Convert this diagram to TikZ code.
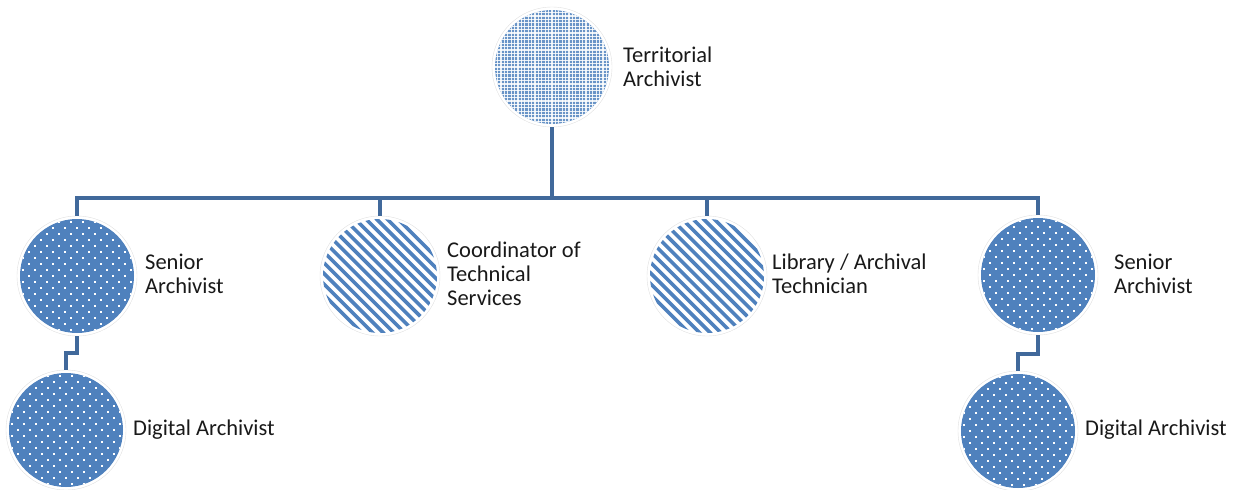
\documentclass[tikz,border=0pt]{standalone}
\usepackage{fontspec}
\setmainfont{Carlito}
\definecolor{cblue}{RGB}{79,129,189}
\definecolor{cline}{RGB}{65,105,155}
\definecolor{ctext}{RGB}{25,25,25}
\tikzset{
  ring/.style={circle, minimum size=120pt, inner sep=0pt, draw=black!12, line width=0.4pt, fill=white},
  dotsnode/.style={ring, path picture={
    \begin{scope}[shift={(path picture bounding box.center)}]
      \clip (0,0) circle (57pt);
      \fill[cblue] (-60,-60) rectangle (60,60);
      \foreach \r in {0,...,20}{
        \pgfmathsetmacro{\yy}{6*\r-60}
        \pgfmathsetmacro{\oo}{6*mod(\r,2)}
        \foreach \c in {-6,...,6}{
          \fill[white] ({12*\c+\oo-0.9},{\yy-0.9}) rectangle ++(1.8,1.8);
        }
      }
    \end{scope}}},
  stripenode/.style={ring, path picture={
    \begin{scope}[shift={(path picture bounding box.center)}]
      \clip (0,0) circle (57pt);
      \foreach \k in {-17,...,17}{
        \draw[cblue, line width=3.6pt] ({10.7*\k-80},-80) -- ({10.7*\k+80},80);
      }
    \end{scope}}},
  gridnode/.style={ring, path picture={
    \begin{scope}[shift={(path picture bounding box.center)}]
      \clip (0,0) circle (57pt);
      \fill[cblue!85] (-60,-60) rectangle (60,60);
      \foreach \k in {-18,...,18}{
        \draw[white, line width=1.1pt, opacity=0.85] ({3.4*\k},-62) -- ({3.4*\k},62);
        \draw[white, line width=1.1pt, opacity=0.85] (-62,{3.4*\k}) -- (62,{3.4*\k});
      }
    \end{scope}}},
  lbl/.style={font=\fontsize{22.5}{24}\selectfont, align=left, inner sep=0pt, text=ctext, anchor=west},
  conn/.style={draw=cline, line width=4pt, line join=miter}
}
\begin{document}
\begin{tikzpicture}[x=1pt,y=-1pt]
\useasboundingbox (0,0) rectangle (1243,490);
\coordinate (bar) at (0,198);
% nodes
\node[gridnode] (T) at (552,67) {};
\node[dotsnode] (S1) at (77,276) {};
\node[stripenode] (C) at (380,276) {};
\node[stripenode] (L) at (707,276) {};
\node[dotsnode] (S2) at (1038,275) {};
\node[dotsnode] (D1) at (66,430) {};
\node[dotsnode] (D2) at (1018,431) {};
% labels
\node[lbl] (tT) at (623,66.5) {Territorial\\Archivist};
\node[lbl] (tS1) at (145,273.5) {Senior\\Archivist};
\node[lbl] (tC) at (447,274) {Coordinator of\\Technical\\Services};
\node[lbl] (tL) at (772,274) {Library / Archival\\Technician};
\node[lbl] (tS2) at (1114,273.5) {Senior\\Archivist};
\node[lbl] (tD1) at (133,430) {Digital Archivist};
\node[lbl] (tD2) at (1085,430) {Digital Archivist};
% connectors
\draw[conn] (T.south) -- (T |- bar);
\draw[conn] (S1.north) -- (S1 |- bar) -- (S2 |- bar) -- (S2.north);
\draw[conn] (C.north) -- (C |- bar);
\draw[conn] (L.north) -- (L |- bar);
\draw[conn] (S1.south) -- ++(0,17) -| (D1.north);
\draw[conn] (S2.south) -- ++(0,19) -| (D2.north);
\end{tikzpicture}
\end{document}
